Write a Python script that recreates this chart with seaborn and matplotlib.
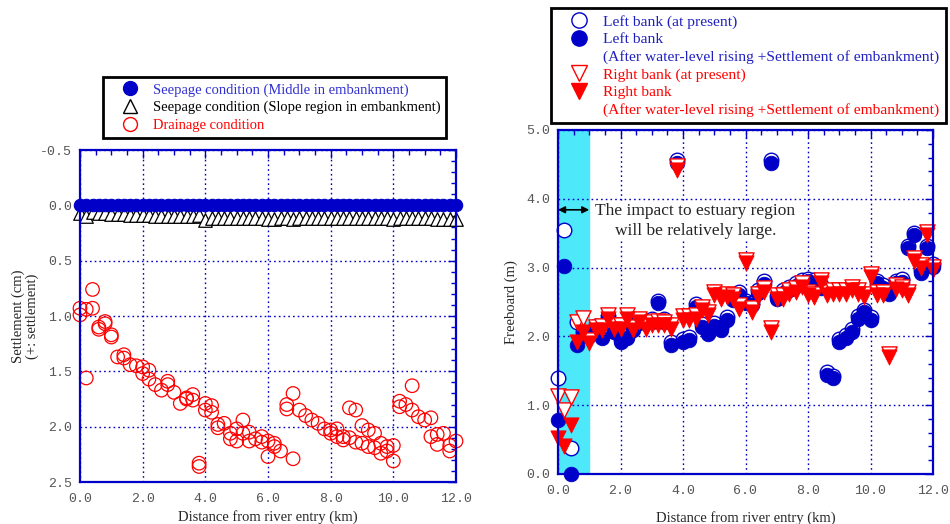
import numpy as np
import matplotlib
matplotlib.use("Agg")
import matplotlib.pyplot as plt
import seaborn as sns
from matplotlib.lines import Line2D
from matplotlib.ticker import MultipleLocator, FormatStrFormatter

# distance along the river, every 0.2 km
km = [0.0, 0.2, 0.4, 0.6, 0.8, 1.0, 1.2, 1.4, 1.6, 1.8,
      2.0, 2.2, 2.4, 2.6, 2.8, 3.0, 3.2, 3.4, 3.6, 3.8,
      4.0, 4.2, 4.4, 4.6, 4.8, 5.0, 5.2, 5.4, 5.6, 5.8,
      6.0, 6.2, 6.4, 6.6, 6.8, 7.0, 7.2, 7.4, 7.6, 7.8,
      8.0, 8.2, 8.4, 8.6, 8.8, 9.0, 9.2, 9.4, 9.6, 9.8,
      10.0, 10.2, 10.4, 10.6, 10.8, 11.0, 11.2, 11.4, 11.6, 11.8,
      12.0]

# settlement (cm) - seepage, middle of embankment
seep_middle = [0.0] * 61
# settlement (cm) - seepage, slope region
seep_slope = [0.07, 0.10, 0.06, 0.07, 0.07, 0.08, 0.08, 0.08, 0.09, 0.09,
              0.09, 0.09, 0.10, 0.10, 0.10, 0.10, 0.10, 0.10, 0.10, 0.09,
              0.13, 0.11, 0.11, 0.11, 0.11, 0.11, 0.11, 0.11, 0.11, 0.11,
              0.12, 0.12, 0.11, 0.11, 0.12, 0.11, 0.11, 0.11, 0.11, 0.11,
              0.11, 0.11, 0.11, 0.11, 0.11, 0.11, 0.11, 0.11, 0.11, 0.11,
              0.12, 0.11, 0.11, 0.11, 0.11, 0.11, 0.11, 0.12, 0.12, 0.12,
              0.12]
# drainage condition
drain_km = [0.0, 0.0, 0.2, 0.2, 0.4, 0.4, 0.6, 0.6, 0.8, 0.8,
            1.0, 1.0, 1.2, 1.4, 1.4, 1.6, 1.8, 2.0, 2.0, 2.2,
            2.2, 2.4, 2.6, 2.8, 2.8, 3.0, 3.2, 3.4, 3.4, 3.6,
            3.6, 3.8, 3.8, 4.0, 4.0, 4.2, 4.2, 4.4, 4.4, 4.6,
            4.8, 4.8, 5.0, 5.0, 5.2, 5.2, 5.4, 5.4, 5.6, 5.8,
            5.8, 6.0, 6.0, 6.2, 6.2, 6.4, 6.6, 6.6, 6.8, 6.8,
            7.0, 7.2, 7.4, 7.6, 7.8, 8.0, 8.0, 8.2, 8.2, 8.4,
            8.4, 8.6, 8.6, 8.8, 8.8, 9.0, 9.0, 9.2, 9.2, 9.4,
            9.4, 9.6, 9.6, 9.8, 9.8, 10.0, 10.0, 10.2, 10.2, 10.4,
            10.6, 10.6, 10.8, 11.0, 11.2, 11.2, 11.4, 11.4, 11.6, 11.8,
            11.8, 12.0]
drain_cm = [0.93, 0.99, 0.94, 1.56, 0.76, 0.93, 1.10, 1.12, 1.05, 1.07,
            1.17, 1.19, 1.37, 1.35, 1.38, 1.44, 1.45, 1.46, 1.52, 1.49,
            1.57, 1.62, 1.67, 1.59, 1.62, 1.69, 1.79, 1.74, 1.75, 1.71,
            1.76, 2.33, 2.36, 1.79, 1.85, 1.81, 1.87, 1.98, 2.01, 1.97,
            2.06, 2.11, 2.02, 2.13, 1.94, 2.06, 2.05, 2.13, 2.11, 2.09,
            2.14, 2.13, 2.27, 2.15, 2.18, 2.22, 1.80, 1.84, 1.70, 2.29,
            1.85, 1.90, 1.94, 1.97, 2.02, 2.03, 2.06, 2.02, 2.09, 2.09,
            2.12, 1.83, 2.10, 1.85, 2.14, 1.99, 2.15, 2.03, 2.18, 2.06,
            2.19, 2.15, 2.24, 2.18, 2.22, 2.17, 2.31, 1.77, 1.82, 1.80,
            1.63, 1.85, 1.91, 1.94, 1.92, 2.09, 2.07, 2.16, 2.06, 2.17,
            2.22, 2.13]

# freeboard (m)
left_now = [1.39, 3.55, 0.38, 2.21, 2.06, 2.04, 2.15, 2.01, 2.29, 2.11,
            1.96, 2.01, 2.13, 2.24, 2.23, 2.25, 2.52, 2.25, 1.92, 4.56,
            1.96, 1.99, 2.47, 2.18, 2.08, 2.19, 2.14, 2.28, 2.57, 2.64,
            2.52, 2.49, 2.67, 2.80, 4.56, 2.59, 2.67, 2.72, 2.77, 2.82,
            2.84, 2.82, 2.74, 1.48, 1.43, 1.96, 2.02, 2.11, 2.30, 2.39,
            2.28, 2.81, 2.74, 2.66, 2.81, 2.83, 3.32, 3.51, 2.96, 3.32,
            3.05]
left_after = [0.78, 3.03, 0.00, 1.88, 2.02, 2.00, 2.11, 1.97, 2.25, 2.07,
              1.92, 1.97, 2.09, 2.20, 2.19, 2.21, 2.48, 2.21, 1.88, 4.52,
              1.92, 1.95, 2.43, 2.14, 2.04, 2.15, 2.10, 2.24, 2.53, 2.60,
              2.48, 2.45, 2.63, 2.76, 4.52, 2.55, 2.63, 2.68, 2.73, 2.78,
              2.80, 2.78, 2.70, 1.44, 1.39, 1.92, 1.98, 2.07, 2.26, 2.35,
              2.24, 2.77, 2.70, 2.62, 2.77, 2.79, 3.28, 3.47, 2.92, 3.28,
              3.01]
right_now = [1.13, 0.93, 1.12, 2.21, 2.27, 1.95, 2.14, 2.15, 2.31, 2.16,
             2.16, 2.31, 2.14, 2.26, 2.16, 2.21, 2.22, 2.21, 2.16, 4.47,
             2.29, 2.29, 2.31, 2.43, 2.36, 2.65, 2.60, 2.62, 2.60, 2.45,
             3.11, 2.41, 2.62, 2.70, 2.12, 2.60, 2.60, 2.67, 2.70, 2.77,
             2.65, 2.62, 2.82, 2.65, 2.67, 2.67, 2.67, 2.72, 2.67, 2.62,
             2.91, 2.65, 2.65, 1.75, 2.74, 2.72, 2.65, 3.14, 3.04, 3.52,
             3.01]
right_after = [0.52, 0.41, 0.71, 1.92, 2.07, 1.90, 2.09, 2.10, 2.26, 2.11,
               2.11, 2.26, 2.09, 2.21, 2.11, 2.16, 2.17, 2.16, 2.11, 4.42,
               2.24, 2.24, 2.26, 2.38, 2.31, 2.60, 2.55, 2.57, 2.55, 2.40,
               3.06, 2.36, 2.57, 2.65, 2.07, 2.55, 2.55, 2.62, 2.65, 2.72,
               2.60, 2.57, 2.77, 2.60, 2.62, 2.62, 2.62, 2.67, 2.62, 2.57,
               2.86, 2.60, 2.60, 1.70, 2.69, 2.67, 2.60, 3.09, 2.99, 3.47,
               2.96]

BLUE = "#0000c8"
RED = "#ff0000"
SERIF = "Liberation Serif"
MONO = "Liberation Mono"

sns.set_style("white")
plt.rcParams["font.family"] = [SERIF, "DejaVu Serif"]
plt.rcParams["axes.unicode_minus"] = False

fig = plt.figure(figsize=(9.5, 5.24), dpi=100)
ax1 = fig.add_axes([80 / 950, 1 - 482 / 524, 376 / 950, 332 / 524])
ax2 = fig.add_axes([558 / 950, 1 - 474 / 524, 375 / 950, 344 / 524])


def style_axes(ax, ymajor, yminor, xlabelpad):
    ax.xaxis.set_major_locator(MultipleLocator(2.0))
    ax.xaxis.set_minor_locator(MultipleLocator(0.5))
    ax.yaxis.set_major_locator(MultipleLocator(ymajor))
    ax.yaxis.set_minor_locator(MultipleLocator(yminor))
    ax.xaxis.set_major_formatter(FormatStrFormatter("%.1f"))
    ax.yaxis.set_major_formatter(FormatStrFormatter("%.1f"))
    ax.tick_params(which="both", direction="in", top=True, right=True,
                   color=BLUE, labelcolor="#555555", width=1.0)
    ax.tick_params(which="major", length=6)
    ax.tick_params(which="minor", length=3.5)
    ax.tick_params(axis="x", which="major", pad=8)
    ax.tick_params(axis="y", which="major", pad=5.5)
    for lab in ax.get_xticklabels() + ax.get_yticklabels():
        lab.set_fontfamily(MONO)
        lab.set_fontsize(9.5)
    for sp in ax.spines.values():
        sp.set_color(BLUE)
        sp.set_linewidth(1.6)
    ax.grid(True, which="major", linestyle=(0, (1.2, 2.2)), color=BLUE, linewidth=1.0)
    ax.set_axisbelow(True)
    ax.set_xlabel("Distance from river entry (km)", fontsize=10.5, labelpad=xlabelpad)


def no_clip(ax):
    for coll in ax.collections:
        coll.set_clip_on(False)


# ---- left: settlement ----
sns.scatterplot(x=km, y=seep_middle, marker="o", s=80, color=BLUE,
                edgecolor=BLUE, linewidth=0.8, ax=ax1, zorder=3)
sns.scatterplot(x=km, y=seep_slope, marker="^", s=95, facecolor="white",
                edgecolor="black", linewidth=0.9, ax=ax1, zorder=2)
sns.scatterplot(x=drain_km, y=drain_cm, marker="o", s=95, facecolor="none",
                edgecolor=RED, linewidth=0.9, ax=ax1, zorder=2)
no_clip(ax1)
ax1.set_xlim(0, 12)
ax1.set_ylim(2.5, -0.5)
style_axes(ax1, 0.5, 0.1, 3.5)
ax1.set_ylabel("Settlement (cm)\n(+: settlement)", fontsize=10.5,
               linespacing=1.0, labelpad=1)

h1 = [
    Line2D([], [], ls="none", marker="o", ms=10, mfc=BLUE, mec=BLUE),
    Line2D([], [], ls="none", marker="^", ms=10, mfc="white", mec="black"),
    Line2D([], [], ls="none", marker="o", ms=10, mfc="white", mec=RED),
]
leg1 = fig.legend(h1, ["Seepage condition (Middle in embankment)",
                       "Seepage condition (Slope region in embankment)",
                       "Drainage condition"],
                  loc="upper left", bbox_to_anchor=(103 / 950, 1 - 77 / 524),
                  fontsize=10.45, frameon=True, fancybox=False, framealpha=1,
                  edgecolor="black", borderpad=0.42, labelspacing=0.3,
                  handlelength=2.85, handletextpad=0.15, borderaxespad=0)
leg1.get_frame().set_linewidth(2.0)
for t, c in zip(leg1.get_texts(), ["#3030d0", "black", RED]):
    t.set_color(c)

# ---- right: freeboard ----
ax2.axvspan(0, 1.0, color="#4de9fa", zorder=0.5)
sns.scatterplot(x=km, y=left_now, marker="o", s=110, facecolor="white",
                edgecolor=BLUE, linewidth=1.0, ax=ax2, zorder=2)
sns.scatterplot(x=km, y=left_after, marker="o", s=110, color=BLUE,
                edgecolor=BLUE, linewidth=0.6, ax=ax2, zorder=2)
sns.scatterplot(x=km, y=right_now, marker="v", s=120, facecolor="white",
                edgecolor=RED, linewidth=1.0, ax=ax2, zorder=2)
sns.scatterplot(x=km, y=right_after, marker="v", s=120, color=RED,
                edgecolor=RED, linewidth=0.6, ax=ax2, zorder=2)
no_clip(ax2)
ax2.set_xlim(0, 12)
ax2.set_ylim(0, 5)
style_axes(ax2, 1.0, 0.2, 10)
ax2.set_ylabel("Freeboard (m)", fontsize=10.5, labelpad=6)

ax2.annotate("", xy=(0, 3.84), xytext=(1.0, 3.84),
             arrowprops=dict(arrowstyle="<|-|>", color="black", lw=1.2,
                             shrinkA=0, shrinkB=0, mutation_scale=10), zorder=4)
ax2.text(4.4, 3.68, "The impact to estuary region\nwill be relatively large.",
         ha="center", va="center", fontsize=12.5, linespacing=1.3, zorder=4,
         bbox=dict(facecolor="white", edgecolor="none", pad=1.0))

h2 = [
    Line2D([], [], ls="none", marker="o", ms=11, mfc="white", mec=BLUE),
    Line2D([], [], ls="none", marker="o", ms=11, mfc=BLUE, mec=BLUE),
    Line2D([], [], ls="none"),
    Line2D([], [], ls="none", marker="v", ms=11, mfc="white", mec=RED),
    Line2D([], [], ls="none", marker="v", ms=11, mfc=RED, mec=RED),
    Line2D([], [], ls="none"),
]
leg2 = fig.legend(h2, ["Left bank (at present)", "Left bank",
                       "(After water-level rising +Settlement of embankment)",
                       "Right bank (at present)", "Right bank",
                       "(After water-level rising +Settlement of embankment)"],
                  loc="upper left", bbox_to_anchor=(551 / 950, 1 - 8 / 524),
                  fontsize=11.15, frameon=True, fancybox=False, framealpha=1,
                  edgecolor="black", borderpad=0.42, labelspacing=0.24,
                  handlelength=2.75, handletextpad=0.2, borderaxespad=0)
leg2.get_frame().set_linewidth(2.0)
for i, t in enumerate(leg2.get_texts()):
    t.set_color("#2020c0" if i < 3 else RED)

fig.savefig("out.png", dpi=100, facecolor="white")
